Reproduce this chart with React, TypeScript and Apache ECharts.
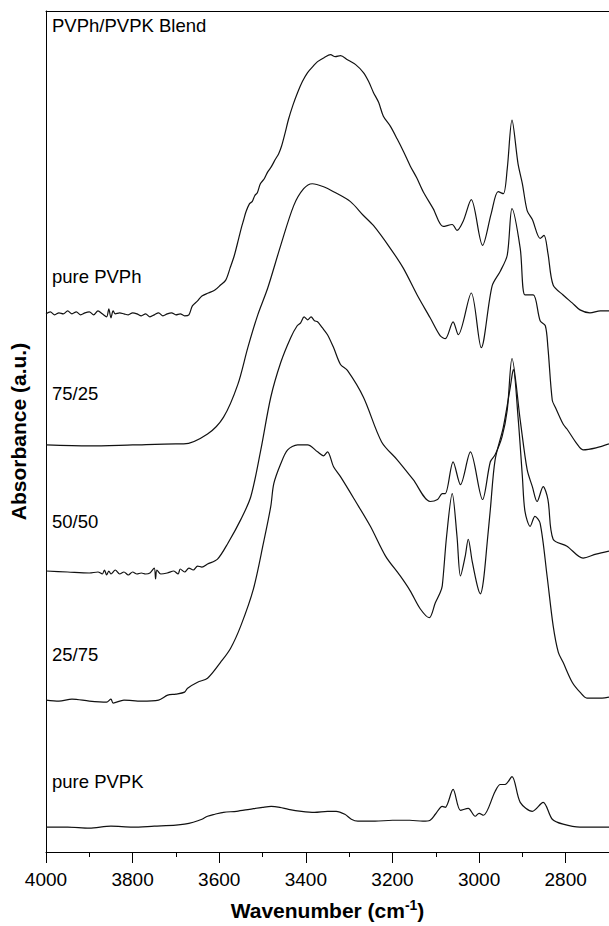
import { useEffect, useRef } from "react";
import * as echarts from "echarts";

// Tick positions on the wavenumber axis (cm-1)
const majorTicks = [4000, 3800, 3600, 3400, 3200, 3000, 2800];
const minorTicks = [3900, 3700, 3500, 3300, 3100, 2900];

const spectrumNames = ["pure PVPh", "75/25", "50/50", "25/75", "pure PVPK"];
const panelTitle = "PVPh/PVPK Blend";

// FTIR spectra, stacked with vertical offsets: [wavenumber, absorbance (a.u.)]
const purePVPh: [number, number][] = [
  [4000, 542], [3990, 544], [3980, 541], [3970, 543], [3960, 542], [3950, 545], [3940, 542],
  [3930, 544], [3920, 541], [3910, 543], [3900, 544], [3890, 541], [3880, 545], [3870, 542],
  [3860, 539], [3855, 547], [3850, 538], [3845, 545], [3840, 542], [3830, 543], [3820, 542],
  [3810, 541], [3800, 543], [3790, 542], [3780, 540], [3770, 542], [3760, 539], [3750, 541],
  [3740, 543], [3730, 540], [3720, 542], [3710, 543], [3700, 541], [3690, 542], [3680, 540],
  [3670, 541], [3662, 550], [3650, 555], [3640, 560], [3625, 563], [3610, 566], [3597, 571],
  [3585, 576], [3575, 588], [3565, 601], [3555, 618], [3548, 630], [3544, 636], [3538, 645],
  [3530, 653], [3524, 655], [3518, 661], [3512, 664], [3505, 673], [3496, 678], [3488, 685],
  [3480, 690], [3470, 698], [3463, 703], [3456, 711], [3448, 724], [3440, 738], [3430, 752],
  [3419, 765], [3408, 776], [3396, 785], [3384, 791], [3373, 796], [3358, 800], [3343, 803],
  [3332, 801], [3320, 802], [3304, 798], [3285, 793], [3267, 785], [3255, 776], [3244, 765],
  [3232, 755], [3221, 741], [3205, 731], [3189, 718], [3174, 705], [3159, 691], [3144, 679],
  [3129, 665], [3106, 648], [3083, 630], [3062, 632], [3051, 626], [3037, 635], [3018, 657],
  [2992, 611], [2972, 643], [2956, 665], [2944, 663], [2935, 688], [2924, 737], [2910, 693],
  [2900, 673], [2889, 646], [2877, 637], [2859, 618], [2850, 621], [2841, 603], [2829, 571],
  [2806, 561], [2785, 553], [2767, 546], [2744, 543], [2720, 545], [2700, 545],
];

const blend7525: [number, number][] = [
  [4000, 410], [3900, 409], [3800, 410], [3700, 411], [3682, 411], [3627, 421], [3590, 438],
  [3557, 471], [3534, 508], [3511, 541], [3488, 568], [3458, 611], [3428, 651], [3405, 668],
  [3385, 673], [3359, 670], [3336, 665], [3297, 655], [3267, 641], [3244, 631], [3205, 608],
  [3175, 588], [3143, 561], [3113, 538], [3090, 520], [3078, 517], [3060, 534], [3048, 521],
  [3018, 563], [2995, 508], [2970, 570], [2951, 585], [2935, 601], [2924, 648], [2905, 608],
  [2894, 561], [2875, 561], [2859, 535], [2847, 530], [2841, 508], [2831, 455], [2824, 448],
  [2806, 431], [2797, 426], [2774, 411], [2760, 405], [2730, 407], [2700, 411],
];

const blend5050: [number, number][] = [
  [4000, 283], [3950, 282], [3900, 281], [3880, 282], [3870, 280], [3865, 284], [3860, 279],
  [3855, 283], [3850, 280], [3840, 284], [3830, 280], [3820, 282], [3810, 279], [3800, 282],
  [3790, 280], [3780, 281], [3770, 280], [3760, 281], [3750, 286], [3747, 275], [3744, 284],
  [3735, 280], [3720, 281], [3705, 283], [3695, 280], [3690, 285], [3680, 282], [3670, 286],
  [3660, 284], [3650, 288], [3640, 287], [3627, 290], [3604, 295], [3580, 311], [3550, 335],
  [3527, 358], [3504, 405], [3481, 458], [3458, 493], [3435, 518], [3420, 530], [3412, 533],
  [3404, 539], [3396, 536], [3388, 539], [3380, 535], [3373, 534], [3362, 528], [3350, 521],
  [3336, 508], [3320, 491], [3304, 485], [3267, 458], [3225, 413], [3189, 395], [3152, 375],
  [3113, 353], [3096, 355], [3085, 361], [3078, 361], [3060, 393], [3043, 370], [3020, 403],
  [2992, 355], [2974, 393], [2963, 400], [2947, 418], [2935, 445], [2924, 497], [2905, 435],
  [2889, 385], [2877, 368], [2866, 353], [2852, 368], [2841, 355], [2829, 315], [2797, 308],
  [2760, 296], [2730, 300], [2700, 303],
];

const blend2575: [number, number][] = [
  [4000, 153], [3970, 152], [3940, 154], [3900, 152], [3860, 151], [3850, 154], [3845, 150],
  [3820, 153], [3780, 152], [3740, 153], [3719, 158], [3700, 159], [3680, 161], [3673, 165],
  [3650, 171], [3627, 175], [3597, 191], [3574, 205], [3550, 228], [3521, 265], [3498, 311],
  [3481, 348], [3474, 371], [3458, 391], [3442, 405], [3419, 410], [3396, 410], [3373, 403],
  [3359, 399], [3350, 403], [3336, 388], [3320, 378], [3285, 353], [3251, 328], [3216, 298],
  [3182, 278], [3159, 263], [3136, 245], [3115, 236], [3101, 251], [3090, 261], [3085, 268],
  [3075, 318], [3062, 361], [3051, 318], [3043, 278], [3032, 298], [3025, 315], [3016, 293],
  [3004, 268], [2997, 260], [2990, 273], [2981, 313], [2974, 345], [2963, 395], [2944, 428],
  [2928, 468], [2921, 486], [2910, 438], [2900, 378], [2894, 343], [2882, 328], [2871, 338],
  [2859, 331], [2843, 278], [2829, 228], [2817, 201], [2806, 191], [2785, 171], [2767, 161],
  [2751, 155], [2716, 155], [2700, 156],
];

const purePVPK: [number, number][] = [
  [4000, 25], [3950, 25], [3900, 24], [3850, 26], [3800, 25], [3750, 26], [3700, 27],
  [3680, 28], [3660, 30], [3640, 33], [3627, 36], [3610, 38], [3590, 40], [3560, 41],
  [3530, 43], [3500, 45], [3480, 46], [3460, 45], [3440, 43], [3410, 41], [3380, 40],
  [3350, 41], [3330, 41], [3310, 38], [3295, 33], [3280, 31], [3240, 31], [3200, 32],
  [3160, 32], [3130, 31], [3113, 32], [3101, 38], [3085, 46], [3078, 45], [3060, 63],
  [3043, 42], [3025, 44], [3009, 36], [3000, 39], [2990, 37], [2963, 61], [2951, 68],
  [2940, 68], [2924, 76], [2905, 50], [2877, 41], [2852, 50], [2831, 33], [2806, 28],
  [2767, 25], [2700, 25],
];

const spectra = [purePVPh, blend7525, blend5050, blend2575, purePVPK];

const FONT = "'Liberation Sans', Arial, Helvetica, sans-serif";
const INK = "#111";

export default function App() {
  const ref = useRef<HTMLDivElement>(null);

  useEffect(() => {
    if (!ref.current) return;
    const chart = echarts.init(ref.current, undefined, { renderer: "svg" });

    // vertical placement of each spectrum's name, just above its baseline
    const labelTops = [267, 384, 512, 645, 772];

    const option: any = {
      animation: false,
      backgroundColor: "#fff",
      grid: { left: 45, right: 0, top: 11, bottom: 68 },
      xAxis: [
        {
          type: "value",
          min: 2700,
          max: 4000,
          inverse: true,
          position: "bottom",
          axisLine: { show: true, onZero: false, lineStyle: { color: "#000", width: 1 } },
          axisTick: { show: true, customValues: majorTicks, length: 11, lineStyle: { color: "#000" } },
          axisLabel: {
            show: true,
            customValues: majorTicks,
            formatter: (v: number) => String(Math.round(v)),
            color: "#000",
            fontSize: 19,
            fontFamily: FONT,
            margin: 18,
          },
          splitLine: { show: false },
          name: "{a|Wavenumber (cm}{sup|-1}{a|)}",
          nameLocation: "middle",
          nameGap: 46,
          nameTextStyle: {
            color: "#000",
            fontWeight: "bold",
            fontSize: 21,
            fontFamily: FONT,
            rich: {
              a: { fontWeight: "bold", fontSize: 21, fontFamily: FONT, color: "#000", lineHeight: 25 },
              sup: { fontWeight: "bold", fontSize: 14, fontFamily: FONT, color: "#000", verticalAlign: "top", lineHeight: 25 },
            },
          },
        },
        {
          type: "value",
          min: 2700,
          max: 4000,
          inverse: true,
          position: "bottom",
          axisLine: { show: false, onZero: false },
          axisTick: { show: true, customValues: minorTicks, length: 5, lineStyle: { color: "#000" } },
          axisLabel: { show: false },
          splitLine: { show: false },
        },
        {
          type: "value",
          min: 2700,
          max: 4000,
          inverse: true,
          position: "top",
          axisLine: { show: true, onZero: false, lineStyle: { color: "#000", width: 1 } },
          axisTick: { show: false },
          axisLabel: { show: false },
          splitLine: { show: false },
        },
      ],
      yAxis: {
        type: "value",
        min: 0,
        max: 847,
        axisLine: { show: true, onZero: false, lineStyle: { color: "#000", width: 1 } },
        axisTick: { show: false },
        axisLabel: { show: false },
        splitLine: { show: false },
        name: "Absorbance (a.u.)",
        nameLocation: "middle",
        nameGap: 17,
        nameRotate: 90,
        nameTextStyle: { color: "#000", fontWeight: "bold", fontSize: 21, fontFamily: FONT },
      },
      series: spectra.map((d, i) => ({
        name: spectrumNames[i],
        type: "line",
        xAxisIndex: 0,
        data: d,
        showSymbol: false,
        symbol: "none",
        smooth: 0.3,
        lineStyle: { color: INK, width: 1.2 },
      })),
      graphic: [
        {
          type: "text",
          left: 52,
          top: 16,
          style: { text: panelTitle, fill: "#000", fontSize: 18.5, fontFamily: FONT },
        },
        ...spectrumNames.map((t, i) => ({
          type: "text",
          left: 52,
          top: labelTops[i],
          style: { text: t, fill: "#000", fontSize: 18.5, fontFamily: FONT },
        })),
      ],
    };

    chart.setOption(option);
    return () => chart.dispose();
  }, []);

  return (
    <div
      ref={ref}
      style={{ position: "fixed", left: 0, top: 0, width: 609, height: 926, background: "#fff" }}
    />
  );
}
